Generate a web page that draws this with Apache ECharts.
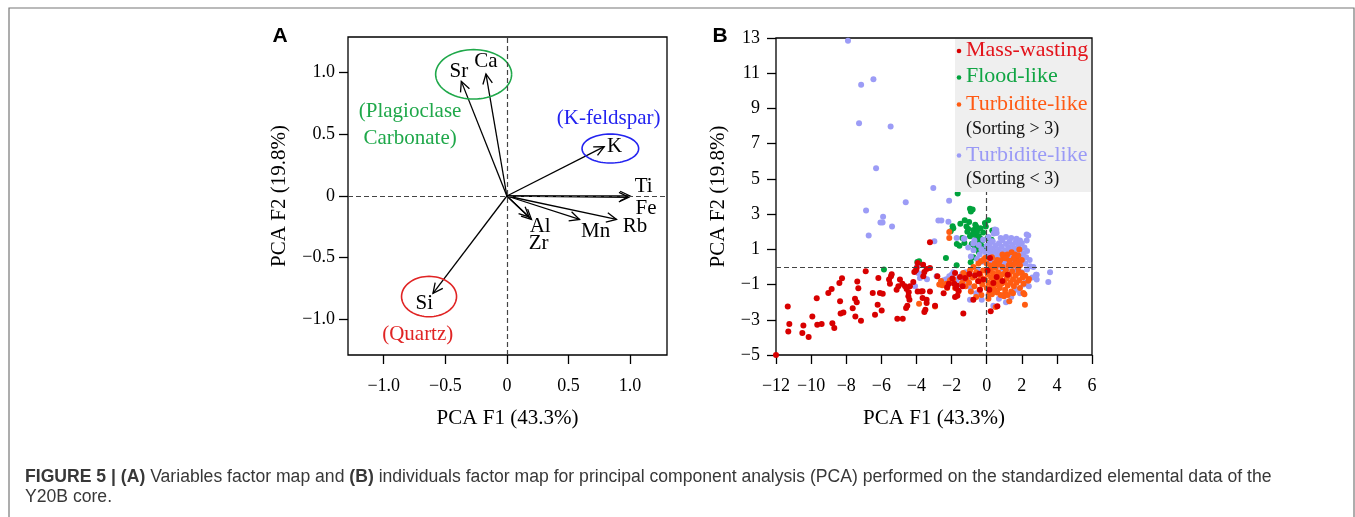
<!DOCTYPE html>
<html>
<head>
<meta charset="utf-8">
<script src="https://cdn.jsdelivr.net/npm/echarts@6/dist/echarts.min.js"></script>
<style>
  html, body { margin: 0; padding: 0; background: #fff; }
  #chart { width: 1355px; height: 517px; }
</style>
</head>
<body>
<div id="chart"></div>
<script>
// ---------------- DATA ----------------
// Panel A: variables factor map (loadings on F1, F2)
const elemNames = ['Sr', 'Ca', 'K', 'Ti', 'Fe', 'Rb', 'Mn', 'Al', 'Zr', 'Si'];
const elemF1 = [-0.37, -0.17, 0.79, 1.0, 0.99, 0.89, 0.59, 0.2, 0.18, -0.6];
const elemF2 = [0.93, 0.99, 0.40, 0.0, -0.01, -0.19, -0.19, -0.19, -0.17, -0.79];

// Mineral groupings (ellipse centres on the variables map)
const groupNames = ['(Plagioclase\nCarbonate)', '(K-feldspar)', '(Quartz)'];
const groupCentreF1 = [-0.27, 0.84, -0.632];
const groupCentreF2 = [0.987, 0.385, -0.816];

// Tick values
const ticksA = [-1.0, -0.5, 0, 0.5, 1.0];
const ticksBx = [-12, -10, -8, -6, -4, -2, 0, 2, 4, 6];
const ticksBy = [-5, -3, -1, 1, 3, 5, 7, 9, 11, 13];

// Panel B: individuals factor map, [F1, F2]
const massWasting = [
  [-12,-5],[-11.33,-2.24],[-11.24,-3.24],[-11.3,-3.66],[-10.44,-3.32],[-10.5,-3.75],[-10.14,-3.98],
  [-9.93,-2.81],[-9.68,-1.78],[-9.65,-3.28],[-9.4,-3.24],[-9.02,-1.48],[-8.83,-1.25],[-8.79,-3.2],
  [-8.68,-3.47],[-8.39,-0.91],[-8.24,-0.64],[-8.35,-1.95],[-8.32,-2.65],[-8.16,-2.58],[-7.63,-2.35],
  [-7.48,-2.81],[-7.16,-3.05],[-7.37,-0.82],[-7.31,-1.21],[-7.5,-1.8],[-7.4,-2.01],[-6.89,-0.25],
  [-6.49,-1.48],[-6.36,-2.71],[-6.17,-0.63],[-6.21,-2.14],[-5.98,-2.48],[-6.08,-1.48],[-5.92,-1.52],
  [-5.56,-0.72],[-5.51,-0.95],[-5.45,-0.53],[-5.41,-0.42],[-5.13,-1.29],[-5.03,-1.1],[-5.09,-2.94],
  [-4.78,-2.94],[-4.94,-0.72],[-4.8,-0.95],[-4.65,-1.1],[-4.56,-1.25],[-4.46,-1.67],[-4.4,-1.86],
  [-4.44,-1.44],[-4.59,-2.33],[-4.52,-2.2],[-4.37,-1.1],[-4.18,-0.85],[-4.12,-0.28],[-3.99,-0.06],
  [-4.03,-0.19],[-3.93,-1.4],[-3.74,-1.4],[-3.65,-1.76],[-3.55,-2.56],[-3.49,-2.43],[-3.42,-2.05],
  [-3.61,-0.53],[-3.55,-0.28],[-3.42,-0.11],[-3.23,-0.06],[-3.93,0.22],[-3.62,0.12],[-3.23,1.4],
  [-3.23,-1.4],[-2.81,-0.53],[-3.42,-1.86],[-2.94,-2.2],[-3.65,-1.38],[-2.15,-0.95],[-1.95,-0.65],
  [-1.75,-1.19],[-1.8,-1.7],[-1.67,-1.63],[-1.37,-1.1],[-1.52,-0.57],[-1.8,-0.34],[-1.33,-2.65],
  [-1.23,-0.63],[-0.98,-0.4],[-0.66,-0.49],[-0.42,-0.38],[-0.47,-0.81],[-0.19,-0.72],[0.57,-0.57],
  [0.15,-1.29],[-0.38,-1.29],[-0.76,-1.86],[0.61,-2.23],[0.19,0.51],[0.23,-2.52],[0.38,-0.91],
  [0.9,-0.8],[1.2,-0.45],[0.05,-0.2],[-2.45,-1.5],[-2.25,-1.15],[-1.85,-0.95],[-1.6,-1.35],[-1.7,-1.05]
];
const floodLike = [
  [-1.65,4.17],[-0.95,3.3],[-0.8,3.26],[-0.9,3.15],[-1.5,2.45],[-1.25,2.65],[-1.15,2.3],[-1.0,2.55],
  [-1.94,2.31],[-2.05,2.03],[-0.75,2.1],[-0.65,1.9],[-0.55,2.0],[-0.45,1.75],[-0.35,1.6],[-0.25,1.5],
  [-0.4,1.45],[-0.6,1.6],[-0.8,1.85],[-0.95,1.75],[-0.1,2.5],[0.09,2.65],[-0.05,2.3],[0.32,2.07],
  [0.28,1.55],[0.05,1.65],[-0.2,1.95],[-1.39,1.65],[-1.27,1.36],[-1.7,1.3],[-1.55,1.2],[-0.85,1.3],
  [-0.7,1.2],[-0.55,1.05],[-0.45,0.85],[-0.75,0.55],[-0.4,0.3],[-0.91,0.27],[-2.32,0.51],[-1.71,0.09],
  [-3.95,0.28],[-3.85,0.32],[-3.9,0.2],[-5.85,-0.15],[-0.3,1.2],[-1.1,2.0],[-0.65,2.4],[-0.6,2.3],
  [-1.9,2.2],[-0.15,1.0],[-1.05,2.15],[-0.35,2.2]
];
const turbiditeHigh = [
  [-2.13,1.99],[-2.13,1.65],[-3.85,-2.09],[-2.94,-2.24],[-2.53,-1.04],[-2.3,-0.95],[-2.25,-1.2],
  [-2.09,-0.76],[-1.9,-0.7],[-1.33,-0.34],[-1.1,-0.45],[-1.15,-0.7],[0.51,-2.27],[2.18,-2.14],
  [2.09,-1.48],[2.15,-1.55],[2.37,-0.78],[2.41,-0.68],[0.99,-1.67],[1.05,-1.5],[1.29,-1.95],
  [1.7,0.57],[1.86,0.99],[1.42,0.83],[1.18,0.7],[0.95,0.51],[0.76,0.36],[0.47,0.23],[0.23,0.08],
  [-0.47,0.19],[-0.32,0.32],[-0.09,0.51],[1.61,0.7],[1.75,0.3],[1.9,0.1],[1.8,-0.1],[2.0,-0.35],
  [2.2,-0.5],[1.5,0.1],[-1.0,-0.9],[-0.8,-0.6],[-0.7,-1.1],[-0.6,-0.3],[-0.5,-0.8],[-0.4,-1.3],
  [-0.35,-0.5],[-0.25,-1.0],[-0.2,-0.2],[-0.1,-0.7],[0.0,-1.2],[0.05,-0.4],[0.1,-0.9],[0.15,-1.5],
  [0.2,-0.1],[0.25,-0.6],[0.3,-1.1],[0.35,-0.35],[0.4,-0.8],[0.45,-1.3],[0.5,-0.05],[0.55,-0.55],
  [0.6,-1.0],[0.65,-0.3],[0.7,-0.75],[0.75,-1.2],[0.8,-0.5],[0.85,-0.95],[0.9,0.0],[0.95,-0.4],
  [1.0,-0.85],[1.05,-1.3],[1.1,-0.2],[1.15,-0.65],[1.2,-1.05],[1.25,0.1],[1.3,-0.45],[1.35,-0.9],
  [1.4,-1.4],[1.45,-0.25],[1.5,-0.7],[1.55,-1.1],[1.6,0.2],[1.65,-0.5],[1.7,-0.9],[1.8,-0.35],
  [1.85,-0.75],[1.9,-1.2],[2.0,0.4],[2.05,-0.6],[2.1,-0.95],[-0.9,-1.4],[-0.6,-1.7],[-0.3,-1.6],
  [0.1,-1.8],[0.3,-1.55],[0.6,-1.45],[0.8,-1.6],[1.2,-1.6],[1.5,-1.5],[-1.2,-1.1],[-1.4,-0.9],
  [-0.2,0.4],[0.0,0.2],[0.3,0.55],[0.6,0.4],[0.9,0.7],[1.1,0.5],[1.3,0.35],[1.55,0.5],[1.8,0.65],
  [-0.75,0.0],[-0.95,-0.2],[0.4,0.1],[0.7,0.15],[-1.8,-1.2],[-1.6,-1.4],[-2.7,-1.0],[-2.6,-0.8]
];
const turbiditeLow = [
  [-7.9,12.85],[-7.15,10.34],[-6.45,10.66],[-7.27,8.16],[-5.47,7.97],[-6.3,5.6],[-3.04,4.48],
  [-4.61,3.68],[-2.14,3.76],[-6.87,3.21],[-5.9,2.85],[-6.05,2.52],[-5.93,2.52],[-5.39,2.3],
  [-6.72,1.78],[-2.75,2.64],[-2.58,2.64],[-2.18,2.56],[-2.98,1.46],
  [-0.55,0.45],[-0.4,0.7],[-0.3,1.0],[-0.2,0.3],[-0.1,0.85],[0.0,1.2],[0.05,0.6],[0.1,0.95],
  [0.15,1.3],[0.2,0.4],[0.25,0.75],[0.3,1.05],[0.35,1.45],[0.4,0.55],[0.45,0.9],[0.5,1.2],
  [0.55,0.3],[0.6,0.7],[0.65,1.0],[0.7,1.35],[0.75,0.45],[0.8,0.85],[0.85,1.15],[0.9,1.5],
  [0.95,0.2],[1.0,0.65],[1.05,0.95],[1.1,1.3],[1.15,0.4],[1.2,0.8],[1.25,1.1],[1.3,1.45],
  [1.35,0.55],[1.4,0.9],[1.45,1.25],[1.5,0.3],[1.55,0.7],[1.6,1.05],[1.65,1.4],[1.7,0.5],
  [1.75,0.85],[1.8,1.2],[1.85,0.1],[1.9,0.6],[1.95,1.0],[2.0,1.35],[2.05,0.35],[2.1,0.75],
  [2.15,1.1],[2.2,0.2],[2.25,0.55],[2.3,0.9],[2.37,1.78],[2.28,1.5],[2.45,0.4],[0.3,0.15],
  [0.6,0.05],[0.9,-0.1],[1.2,-0.05],[1.5,-0.2],[1.75,-0.1],[2.0,-0.3],[2.3,-0.15],[2.47,0.04],
  [2.66,0.0],[2.85,-0.45],[2.85,-0.72],[3.61,-0.3],[3.51,-0.85],[2.6,-0.6],[2.2,-0.9],[2.4,-1.1],
  [-0.7,1.5],[-0.45,1.25],[-0.2,1.55],[0.1,1.7],[0.4,1.9],[0.55,2.1],[0.8,1.65],[1.1,1.7],
  [1.4,1.65],[1.7,1.6],[1.9,1.5],[-0.75,0.95],[-0.9,0.6],[-1.05,1.1],[-1.3,1.6],[-1.71,1.65],
  [-1.27,1.61],[-0.76,1.33],[-0.5,-0.2],[-0.8,-0.5],[-1.1,-0.6],[-1.3,-0.8],[-1.5,-1.0],
  [-2.13,-0.53],[-2.0,-0.45],[-2.3,-0.7],[-1.9,-0.3],[-1.2,-0.3],[-0.9,-1.2],[-0.6,-1.5],
  [-0.95,-1.86],[-0.28,-1.86],[0.1,-1.6],[0.4,-1.4],[0.38,-2.2],[0.7,-1.8],[1.1,-2.0],[1.4,-1.7],
  [1.7,-1.3],[1.9,-1.5],[2.1,-1.0],[-3.8,-0.63],[-4.08,-1.1],[-3.6,-0.4],[-3.4,-0.7],[-2.85,-0.53],
  [-2.5,-0.85],[-2.45,-0.75],[-2.2,-1.0],[-1.7,-0.7],[-1.4,-0.4],[-3.95,0.05],[-3.9,-0.35],
  [0.47,2.12],[0.57,1.93],[0.28,1.46],[0.19,1.36],[2.28,1.84],[2.81,-0.44]
];

// ---------------- LAYOUT / STYLE ----------------
const SERIF = "'Liberation Serif', 'Times New Roman', serif";
const SANS = "'Liberation Sans', Arial, sans-serif";
const RED = '#d80000', GREEN = '#00a23c', ORANGE = '#ff5c12', LAV = '#9c9cf6';

// label placement on the variables map (data coordinates)
const elemLabelAt = [[-0.39,1.01],[-0.17,1.095],[0.875,0.40],[1.11,0.08],[1.13,-0.10],
                     [1.04,-0.25],[0.72,-0.29],[0.27,-0.25],[0.257,-0.386],[-0.67,-0.873]];
const groupLabelAt = [[-0.786,0.58],[0.826,0.63],[-0.724,-1.12]];
const groupColors = ['#1fa84a', '#2323f0', '#e02424'];
const groupRadiiPx = [[38,24.7],[28.3,14.5],[27.5,20.2]];

const fmtA = v => v === 0 ? '0' : (v < 0 ? '\u2212' : '') + Math.abs(v).toFixed(1);
const fmtB = v => (v < 0 ? '\u2212' : '') + Math.abs(v);

function axisCommon(ticks, fmt, margin) {
  return {
    type: 'value',
    splitLine: { show: false },
    axisLine: { show: false, onZero: false },
    axisTick: { show: true, inside: false, length: 9, customValues: ticks,
                lineStyle: { color: '#000', width: 1.3 } },
    axisLabel: { customValues: ticks, formatter: fmt, margin: margin, color: '#000',
                 fontSize: 18, fontFamily: SERIF },
    nameLocation: 'middle',
    nameTextStyle: { color: '#000', fontSize: 21, fontFamily: SERIF }
  };
}

const dashed = { type: [5, 3], color: '#444', width: 1.2 };

const chart = echarts.init(document.getElementById('chart'), null, { renderer: 'canvas' });

const option = {
  animation: false,
  backgroundColor: '#fff',
  title: {
    left: 25, top: 467, padding: 0,
    text: '{b|FIGURE 5 | (A)} Variables factor map and {b|(B)} individuals factor map for principal component analysis (PCA) performed on the standardized elemental data of the\nY20B core.',
    textStyle: {
      fontFamily: SANS, fontSize: 17.6, fontWeight: 'normal', color: '#383838', lineHeight: 20,
      rich: { b: { fontFamily: SANS, fontSize: 17.6, fontWeight: 'bold', color: '#383838', lineHeight: 20 } }
    }
  },
  grid: [
    { left: 348, top: 37, width: 319, height: 318, show: true, borderColor: '#000', borderWidth: 1.3, backgroundColor: 'transparent' },
    { left: 776, top: 38, width: 316, height: 317, show: true, borderColor: '#000', borderWidth: 1.3, backgroundColor: 'transparent' }
  ],
  xAxis: [
    Object.assign(axisCommon(ticksA, fmtA, 22), { gridIndex: 0, min: -1.29, max: 1.3, name: 'PCA F1 (43.3%)', nameGap: 53 }),
    Object.assign(axisCommon(ticksBx, fmtB, 22), { gridIndex: 1, min: -12, max: 6, name: 'PCA F1 (43.3%)', nameGap: 53 })
  ],
  yAxis: [
    Object.assign(axisCommon(ticksA, fmtA, 13), { gridIndex: 0, min: -1.29, max: 1.29, name: 'PCA F2 (19.8%)', nameGap: 58 }),
    Object.assign(axisCommon(ticksBy, fmtB, 16), { gridIndex: 1, min: -5, max: 13, name: 'PCA F2 (19.8%)', nameGap: 47 })
  ],
  graphic: [
    { type: 'rect', z: 0, shape: { x: 9, y: 8, width: 1345, height: 540 }, style: { fill: 'none', stroke: '#777', lineWidth: 1.2 } },
    { type: 'text', z: 100, x: 280, y: 36, style: { text: 'A', font: 'bold 21px ' + SANS, fill: '#000', textAlign: 'center', textVerticalAlign: 'middle' } },
    { type: 'text', z: 100, x: 720, y: 36, style: { text: 'B', font: 'bold 21px ' + SANS, fill: '#000', textAlign: 'center', textVerticalAlign: 'middle' } },
    // legend of panel B
    { type: 'rect', z: 100, shape: { x: 955, y: 39, width: 136, height: 153 }, style: { fill: '#efefef' } },
    { type: 'circle', z: 101, shape: { cx: 959, cy: 51, r: 2.3 }, style: { fill: RED } },
    { type: 'text', z: 101, x: 966, y: 50, style: { text: 'Mass-wasting', font: '22px ' + SERIF, fill: '#e3141c', textAlign: 'left', textVerticalAlign: 'middle' } },
    { type: 'circle', z: 101, shape: { cx: 959, cy: 77.5, r: 2.3 }, style: { fill: GREEN } },
    { type: 'text', z: 101, x: 966, y: 76.7, style: { text: 'Flood-like', font: '22px ' + SERIF, fill: '#10a544', textAlign: 'left', textVerticalAlign: 'middle' } },
    { type: 'circle', z: 101, shape: { cx: 959, cy: 104.5, r: 2.3 }, style: { fill: ORANGE } },
    { type: 'text', z: 101, x: 966, y: 104, style: { text: 'Turbidite-like', font: '22px ' + SERIF, fill: '#ff5a14', textAlign: 'left', textVerticalAlign: 'middle' } },
    { type: 'text', z: 101, x: 966, y: 129, style: { text: '(Sorting > 3)', font: '18px ' + SERIF, fill: '#111', textAlign: 'left', textVerticalAlign: 'middle' } },
    { type: 'circle', z: 101, shape: { cx: 959, cy: 155.5, r: 2.3 }, style: { fill: LAV } },
    { type: 'text', z: 101, x: 966, y: 155, style: { text: 'Turbidite-like', font: '22px ' + SERIF, fill: '#9a9af6', textAlign: 'left', textVerticalAlign: 'middle' } },
    { type: 'text', z: 101, x: 966, y: 179.3, style: { text: '(Sorting < 3)', font: '18px ' + SERIF, fill: '#111', textAlign: 'left', textVerticalAlign: 'middle' } }
  ],
  series: [
    // ---- Panel A ----
    {
      type: 'scatter', xAxisIndex: 0, yAxisIndex: 0, data: [], silent: true,
      markLine: { silent: true, symbol: ['none', 'none'], label: { show: false }, lineStyle: dashed,
                  data: [{ xAxis: 0 }, { yAxis: 0 }] }
    },
    {
      type: 'custom', xAxisIndex: 0, yAxisIndex: 0, silent: true, z: 3,
      data: elemF1.map((x, i) => [x, elemF2[i]]),
      renderItem: function (params, api) {
        const o = api.coord([0, 0]);
        const p = api.coord([api.value(0), api.value(1)]);
        const ang = Math.atan2(p[1] - o[1], p[0] - o[0]);
        const L = 11, a = 0.45;
        const h1 = [p[0] - L * Math.cos(ang - a), p[1] - L * Math.sin(ang - a)];
        const h2 = [p[0] - L * Math.cos(ang + a), p[1] - L * Math.sin(ang + a)];
        return { type: 'group', children: [
          { type: 'line', shape: { x1: o[0], y1: o[1], x2: p[0], y2: p[1] }, style: { stroke: '#000', lineWidth: 1.3 } },
          { type: 'polyline', shape: { points: [h1, p, h2] }, style: { stroke: '#000', lineWidth: 1.3, fill: null } }
        ] };
      }
    },
    {
      type: 'custom', xAxisIndex: 0, yAxisIndex: 0, silent: true, z: 3,
      data: elemLabelAt,
      renderItem: function (params, api) {
        const p = api.coord([api.value(0), api.value(1)]);
        return { type: 'text', x: p[0], y: p[1], style: { text: elemNames[params.dataIndex], font: '21px ' + SERIF,
                 fill: '#000', textAlign: 'center', textVerticalAlign: 'middle' } };
      }
    },
    {
      type: 'custom', xAxisIndex: 0, yAxisIndex: 0, silent: true, z: 3,
      data: groupCentreF1.map((x, i) => [x, groupCentreF2[i]]),
      renderItem: function (params, api) {
        const c = api.coord([api.value(0), api.value(1)]);
        const r = groupRadiiPx[params.dataIndex];
        const pts = [];
        for (let k = 0; k <= 72; k++) {
          const t = k / 72 * Math.PI * 2;
          pts.push([c[0] + r[0] * Math.cos(t), c[1] + r[1] * Math.sin(t)]);
        }
        return { type: 'polyline', shape: { points: pts }, style: { stroke: groupColors[params.dataIndex], lineWidth: 1.6, fill: null } };
      }
    },
    {
      type: 'custom', xAxisIndex: 0, yAxisIndex: 0, silent: true, z: 3,
      data: groupLabelAt,
      renderItem: function (params, api) {
        const p = api.coord([api.value(0), api.value(1)]);
        return { type: 'text', x: p[0], y: p[1], style: { text: groupNames[params.dataIndex], font: '21px ' + SERIF,
                 fill: groupColors[params.dataIndex], textAlign: 'center', textVerticalAlign: 'middle', lineHeight: 27 } };
      }
    },
    // ---- Panel B ----
    {
      name: 'Flood-like', type: 'scatter', xAxisIndex: 1, yAxisIndex: 1, data: floodLike,
      symbolSize: 6, itemStyle: { color: GREEN, opacity: 1 },
      markLine: { silent: true, symbol: ['none', 'none'], label: { show: false }, lineStyle: dashed,
                  data: [{ xAxis: 0 }, { yAxis: 0 }] }
    },
    { name: 'Turbidite-like (Sorting < 3)', type: 'scatter', xAxisIndex: 1, yAxisIndex: 1, data: turbiditeLow,
      symbolSize: 6, itemStyle: { color: LAV, opacity: 1 } },
    { name: 'Turbidite-like (Sorting > 3)', type: 'scatter', xAxisIndex: 1, yAxisIndex: 1, data: turbiditeHigh,
      symbolSize: 6, itemStyle: { color: ORANGE, opacity: 1 } },
    { name: 'Mass-wasting', type: 'scatter', xAxisIndex: 1, yAxisIndex: 1, data: massWasting,
      symbolSize: 6, itemStyle: { color: RED, opacity: 1 } }
  ]
};

chart.setOption(option);
</script>
</body>
</html>
